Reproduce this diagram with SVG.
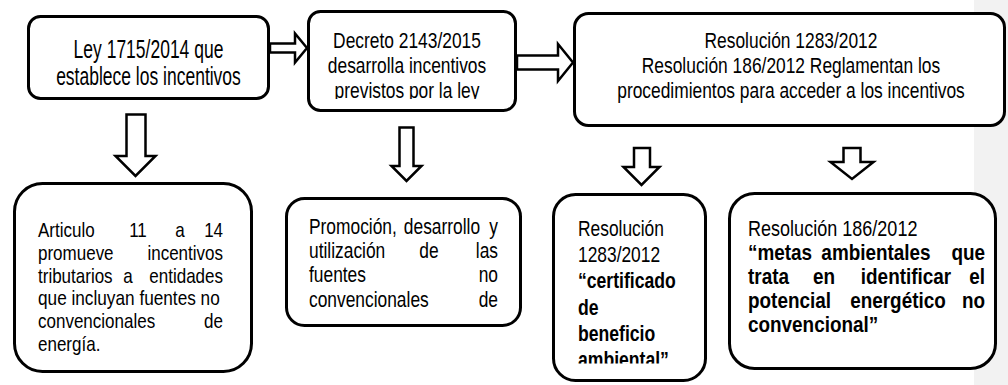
<svg xmlns="http://www.w3.org/2000/svg" width="1008" height="385" viewBox="0 0 1008 385">
<style>
.box{fill:#fff;stroke:#000;stroke-width:3}
.arr{fill:#fff;stroke:#000;stroke-width:2.5;stroke-linejoin:miter}
text{font-family:"Liberation Sans",Arial,sans-serif;font-size:22px;fill:#000;transform-box:fill-box;transform:scaleX(0.79)}
.s{transform-origin:0 50%}
.m{text-anchor:middle;transform-origin:50% 50%}
.e{text-anchor:end;transform-origin:100% 50%}
.b{font-weight:bold}
.t1{font-size:25px;transform:scaleX(0.7)}
.f4{font-size:21px;transform:scaleX(0.82)}
.r4{font-size:21px;transform:scaleX(0.81)}
.b6{transform:scaleX(0.8)}
.r7{transform:scaleX(0.82)}
.b7{transform:scaleX(0.86)}
</style>
<defs>
<clipPath id="c2"><rect x="300" y="0" width="230" height="99"/></clipPath>
<clipPath id="c6"><rect x="550" y="190" width="160" height="173.5"/></clipPath>
</defs>
<rect x="974" y="0" width="34" height="385" fill="#f2f2f2"/>
<g id="connectors">
<polygon class="arr" points="270,43.5 295,43.5 295,33.5 307,48 295,62.5 295,52.5 270,52.5"/>
<polygon class="arr" points="517,55.5 558,55.5 558,44 573,62.5 558,81 558,69.5 517,69.5"/>
<polygon class="arr" points="126.5,114.5 145.5,114.5 145.5,156 155.5,156 135.5,176 115.5,156 126.5,156"/>
<polygon class="arr" points="399.5,127.5 413.5,127.5 413.5,166 421.5,166 406.5,181 391.5,166 399.5,166"/>
<polygon class="arr" points="634,148 650,148 650,167 659.5,167 641.5,185 623.5,167 634,167"/>
<polygon class="arr" points="843.5,148 860.5,148 860.5,162 873.5,162 852,179 830.5,162 843.5,162"/>
</g>
<g id="n1">
<rect class="box" x="28.5" y="16.5" width="240" height="82" rx="12"/>
<text class="m t1" x="148.5" y="58">Ley 1715/2014 que</text>
<text class="m t1" x="148.5" y="85">establece los incentivos</text>
</g>
<g id="n2">
<rect class="box" x="308.5" y="11.5" width="207" height="99" rx="12"/>
<g clip-path="url(#c2)">
<text class="m" x="407" y="48">Decreto 2143/2015</text>
<text class="m" x="407" y="73">desarrolla incentivos</text>
<text class="m" x="407" y="98">previstos por la ley</text>
</g>
</g>
<g id="n3">
<rect class="box" x="574.5" y="13.5" width="430" height="112" rx="14"/>
<text class="m" x="791" y="48">Resolución 1283/2012</text>
<text class="m" x="791" y="73">Resolución 186/2012 Reglamentan los</text>
<text class="m" x="791" y="98">procedimientos para acceder a los incentivos</text>
</g>
<g id="n4">
<rect class="box" x="14.5" y="183.5" width="237" height="188" rx="28"/>
<text class="s r4" x="38" y="237">Articulo</text>
<text class="m r4" x="138" y="237">11</text>
<text class="m r4" x="180" y="237">a</text>
<text class="e r4" x="223" y="237">14</text>
<text class="s r4" x="38" y="259.8">promueve</text>
<text class="e r4" x="223" y="259.8">incentivos</text>
<text class="s r4" x="38" y="282.6">tributarios</text>
<text class="m r4" x="128" y="282.6">a</text>
<text class="e r4" x="223" y="282.6">entidades</text>
<text class="s f4" x="38" y="305.4">que incluyan fuentes no</text>
<text class="s r4" x="38" y="328.2">convencionales</text>
<text class="e r4" x="223" y="328.2">de</text>
<text class="s r4" x="38" y="351">energía.</text>
</g>
<g id="n5">
<rect class="box" x="286.5" y="198.5" width="234" height="127" rx="18"/>
<text class="s" x="309" y="234">Promoción,</text>
<text class="m" x="442" y="234">desarrollo</text>
<text class="e" x="498" y="234">y</text>
<text class="s" x="309" y="258">utilización</text>
<text class="m" x="429" y="258">de</text>
<text class="e" x="498" y="258">las</text>
<text class="s" x="309" y="282">fuentes</text>
<text class="e" x="498" y="282">no</text>
<text class="s" x="309" y="307">convencionales</text>
<text class="e" x="498" y="307">de</text>
</g>
<g id="n6">
<rect class="box" x="553.5" y="194.5" width="152" height="186" rx="22"/>
<g clip-path="url(#c6)">
<text class="s" x="578" y="236">Resolución</text>
<text class="s" x="578" y="262">1283/2012</text>
<text class="s b b6" x="578" y="288.5">“certificado</text>
<text class="s b b6" x="578" y="315">de</text>
<text class="s b b6" x="578" y="341">beneficio</text>
<text class="s b b6" x="578" y="367">ambiental”</text>
</g>
</g>
<g id="n7">
<rect class="box" x="729.5" y="193.5" width="266" height="175" rx="25"/>
<text class="s r7" x="748" y="236">Resolución 186/2012</text>
<text class="s b b7" x="748" y="260.5">“metas</text>
<text class="m b b7" x="876" y="260.5">ambientales</text>
<text class="e b b7" x="985" y="260.5">que</text>
<text class="s b b7" x="748" y="284.5">trata</text>
<text class="m b b7" x="824" y="284.5">en</text>
<text class="m b b7" x="906" y="284.5">identificar</text>
<text class="e b b7" x="985" y="284.5">el</text>
<text class="s b b7" x="748" y="308.5">potencial</text>
<text class="m b b7" x="898" y="308.5">energético</text>
<text class="e b b7" x="985" y="308.5">no</text>
<text class="s b b7" x="748" y="332.5">convencional”</text>
</g>
</svg>
